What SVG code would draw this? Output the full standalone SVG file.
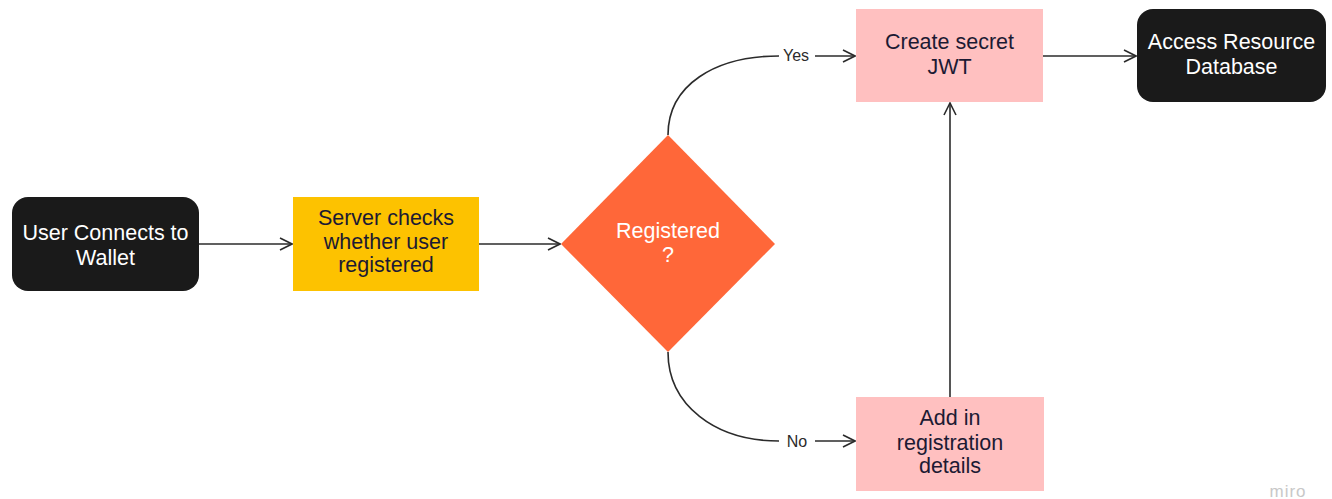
<svg xmlns="http://www.w3.org/2000/svg" width="1332" height="499" viewBox="0 0 1332 499">
<style>
.lbl{font-family:"Liberation Sans",Arial,sans-serif;font-size:21.5px;text-anchor:middle}
.w{fill:#ffffff}
.d{fill:#1c1a33}
.edge{fill:none;stroke:#2b2b2b;stroke-width:1.6}
.el{font-family:"Liberation Sans",Arial,sans-serif;font-size:16px;fill:#2b2b2b;text-anchor:middle}
</style>
<defs>
<marker id="arr" viewBox="0 0 14 14" refX="13" refY="7" markerWidth="14" markerHeight="14" markerUnits="userSpaceOnUse" orient="auto">
<path d="M1,1 L13,7 L1,13" fill="none" stroke="#2b2b2b" stroke-width="1.6"/>
</marker>
</defs>
<rect width="1332" height="499" fill="#ffffff"/>
<g id="connectors">
<line class="edge" x1="199" y1="244" x2="292" y2="244" marker-end="url(#arr)"/>
<line class="edge" x1="479" y1="244" x2="560" y2="244" marker-end="url(#arr)"/>
<path class="edge" d="M668,135 C668,85 715,56 779,56"/>
<line class="edge" x1="815" y1="56" x2="855" y2="56" marker-end="url(#arr)"/>
<text class="el" x="796" y="61">Yes</text>
<path class="edge" d="M668,352 C668,405 715,441 779,441"/>
<line class="edge" x1="815" y1="441" x2="855" y2="441" marker-end="url(#arr)"/>
<text class="el" x="797" y="447">No</text>
<line class="edge" x1="1043" y1="56" x2="1136" y2="56" marker-end="url(#arr)"/>
<line class="edge" x1="950" y1="397" x2="950" y2="103" marker-end="url(#arr)"/>
</g>
<g id="n1">
<rect x="12" y="197" width="187" height="94" rx="16" fill="#1a1a1a"/>
<text class="lbl w" x="105.5" y="240">User Connects to</text>
<text class="lbl w" x="105.5" y="265">Wallet</text>
</g>
<g id="n2">
<rect x="293" y="197" width="186" height="94" fill="#fdc200"/>
<text class="lbl d" x="386" y="225">Server checks</text>
<text class="lbl d" x="386" y="249">whether user</text>
<text class="lbl d" x="386" y="272">registered</text>
</g>
<g id="n3">
<polygon points="668,135 775,244 668,352 561,244" fill="#ff6739"/>
<text class="lbl w" x="668" y="238">Registered</text>
<text class="lbl w" x="668" y="262">?</text>
</g>
<g id="n4">
<rect x="856" y="9" width="187" height="93" fill="#ffc0c0"/>
<text class="lbl d" x="949.5" y="49">Create secret</text>
<text class="lbl d" x="949.5" y="74">JWT</text>
</g>
<g id="n5">
<rect x="1137" y="9" width="189" height="93" rx="16" fill="#1a1a1a"/>
<text class="lbl w" x="1231.5" y="49">Access Resource</text>
<text class="lbl w" x="1231.5" y="74">Database</text>
</g>
<g id="n6">
<rect x="856" y="397" width="188" height="94" fill="#ffc0c0"/>
<text class="lbl d" x="950" y="425">Add in</text>
<text class="lbl d" x="950" y="450">registration</text>
<text class="lbl d" x="950" y="473">details</text>
</g>
<text x="1288" y="497" font-family="Liberation Sans,Arial,sans-serif" font-size="17" fill="#c8c8c8" text-anchor="middle" letter-spacing="1">miro</text>
</svg>
